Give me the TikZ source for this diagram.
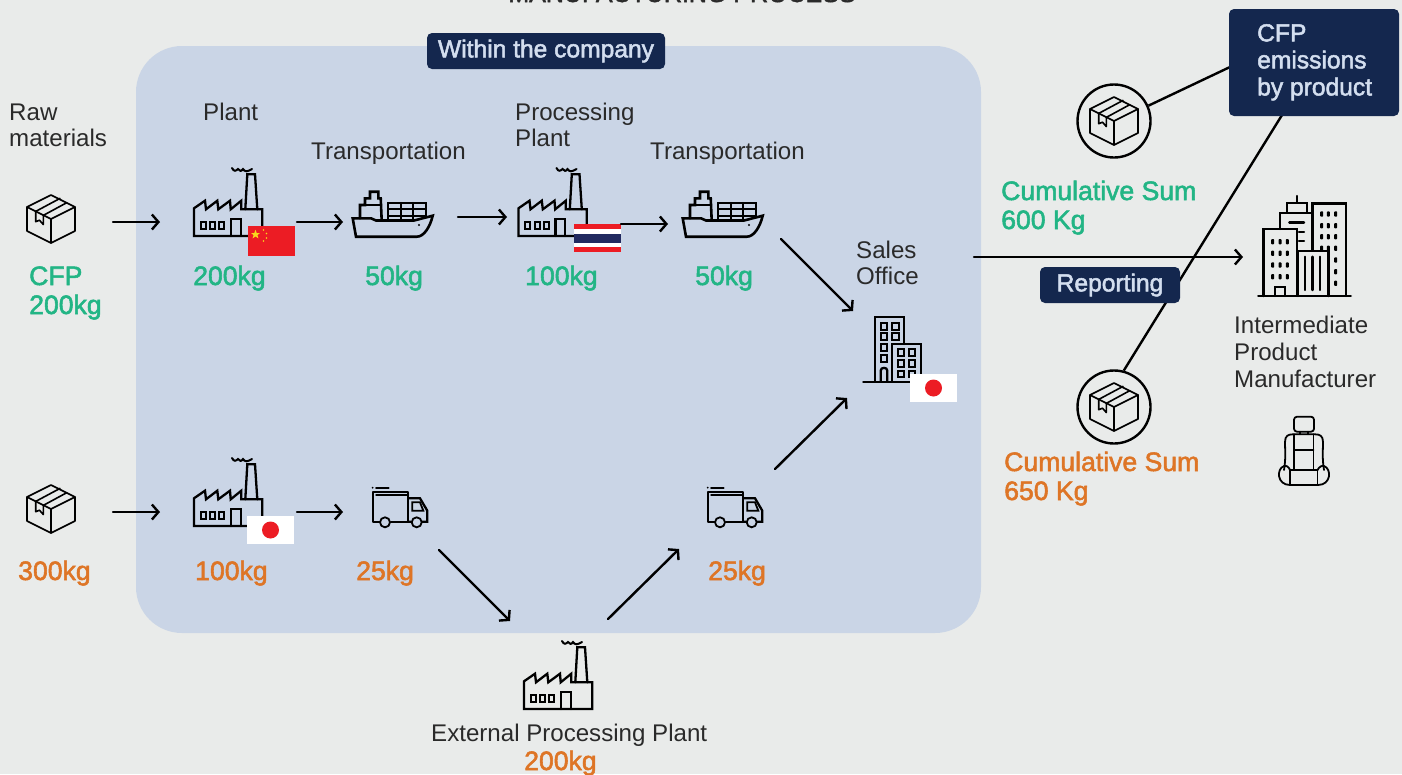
\documentclass[tikz,border=0pt]{standalone}
\usepackage{fontspec}
\setmainfont{Liberation Sans}
\usetikzlibrary{arrows.meta}
\definecolor{bgc}{HTML}{E9EBEA}
\definecolor{panelc}{HTML}{CAD5E6}
\definecolor{navy}{HTML}{14274E}
\definecolor{lightt}{HTML}{D3DEEF}
\definecolor{greenc}{HTML}{22B585}
\definecolor{orangec}{HTML}{DE7526}
\definecolor{inkc}{HTML}{2A2A2A}
\definecolor{jred}{HTML}{EC1C24}
\definecolor{tblue}{HTML}{222A60}
\definecolor{cyel}{HTML}{F8D81C}
\newcommand{\medw}{\addfontfeature{FakeBold=2.0}}
\tikzset{
  x=1pt,y=-1pt,
  icon/.style={line width=2.3pt,draw=black,line join=miter,line cap=round},
  thin icon/.style={line width=1.6pt,draw=black,line join=round,line cap=round},
  flow/.style={line width=2.4pt,black,-{Straight Barb[length=6.5pt,width=15pt,line width=2.4pt]},line cap=round},
  link/.style={line width=2.4pt,black},
  lab/.style={anchor=base west,inner sep=0pt,text=inkc,font=\fontsize{24.1}{26}\selectfont,align=left},
  grn/.style={anchor=base west,inner sep=0pt,text=greenc,font=\fontsize{26.6}{29}\selectfont\medw,align=left},
  org/.style={anchor=base west,inner sep=0pt,text=orangec,font=\fontsize{26.6}{29}\selectfont\medw,align=left},
  tag/.style={fill=navy,rounded corners=5pt,inner sep=0pt,text=lightt,font=\fontsize{24.6}{27}\selectfont\medw,align=left},
  halo/.style={circle,draw=black,line width=2.4pt,minimum size=73pt,inner sep=0pt},
  boxicon/.pic={
    \draw[thin icon] (0,-24)--(24,-12)--(24,12)--(0,24)--(-24,12)--(-24,-12)--cycle;
    \draw[thin icon] (-24,-12)--(0,0)--(24,-12) (0,0)--(0,24);
    \draw[thin icon] (-15.3,-7.6)--(9,-20.6) (-7.7,-3.6)--(15.7,-16.3);
    \draw[thin icon] (-15.3,-7.6)--(-15.3,2.7)--(-11.5,1.2)--(-7.7,5.5)--(-7.7,-3.6);
  },
  factoryicon/.pic={
    \draw[icon] (-34,31)--(-34,3.3)--(-23,-4.3)--(-22,4.3)--(-10.7,-4.3)--(-9.7,4.3)--(2,-4.3)--(2.7,4.3)--(13.3,-4.3)--(13.3,4.3)--(34.3,4.3)--(34.3,31)--cycle;
    \draw[icon] (17.3,4.3)--(19.3,-30.7)--(27,-30.7)--(29.3,4.3);
    \draw[icon,line width=2pt] (4,-37) .. controls (6,-33) and (8,-34) .. (10,-36) .. controls (12,-34) and (13,-33) .. (15,-36) .. controls (17,-33) and (19,-33) .. (24,-36);
    \foreach \xx in {-27.3,-18,-8.7}{\draw[icon,line width=2pt] (\xx,16.7) rectangle ++(5,7);}
    \draw[icon] (3,31)--(3,14.3)--(12.7,14.3)--(12.7,31);
  },
  shipicon/.pic={
    \draw[icon,line width=2.6pt] (-39.3,3.3)--(-36,21.7)--(24.7,21.7) .. controls (32,21.7) and (38,12) .. (40.7,0.7)--(22,5.5)--(-10,5.5)--(-16,5.5)--(-21,3.3)--cycle;
    \draw[icon,line width=2.6pt] (-32,3.3)--(-32,-10)--(-27,-10)--(-27,-16.7)--(-22,-16.7)--(-22,-23.3)--(-13.7,-23.3)--(-13.7,-16.7)--(-11.3,-16.7)--(-10.3,5.5);
    \draw[icon] (-27,-10)--(-11,-10);
    \draw[icon] (-3.7,5.5)--(-3.7,-12.3)--(34,-12.3)--(34,2);
    \draw[icon,line width=1.8pt] (-3.7,-6)--(34,-6) (-3.7,0.7)--(34,0.7);
    \draw[icon,line width=1.8pt] (8.7,-12.3)--(8.7,5.5) (21.3,-12.3)--(21.3,5.5);
    \fill (27,10) circle (1.1pt);
  },
  truckicon/.pic={
    \draw[icon,line join=round] (-20,13.7)--(-27.3,13.7)--(-27.3,-16.3)--(8.3,-16.3)--(8.3,13.7)--(-9,13.7);
    \draw[icon,line width=1.5pt] (-24,-13)--(8.3,-13);
    \draw[icon] (8.3,-9.7)--(20,-9.7)--(27.3,2.7)--(27.3,13.7)--(22,13.7) (11,13.7)--(8.3,13.7);
    \draw[icon,line width=1.8pt] (12.3,-5.7)--(20,-5.7)--(23.3,2.7)--(12.3,2.7)--cycle;
    \draw[icon,line width=1.8pt] (-15,14.3) circle (5pt) (16.7,14.3) circle (5pt);
    \draw[icon,line width=1.6pt] (-24,-20.3)--(-11.3,-20.3);
    \fill (-27.3,-20.3) circle (1pt);
  },
  officeicon/.pic={
    \draw[icon] (-26.7,31.7)--(27,31.7);
    \draw[icon] (-15,31.7)--(-15,-32.7)--(14.3,-32.7)--(14.3,-6);
    \draw[icon] (1.7,31.7)--(1.7,-6)--(31,-6)--(31,31.7);
    \foreach \yy in {-27.3,-16.7,-5.7,5}{\draw[icon,line width=2pt] (-9.3,\yy) rectangle ++(6.6,6.8);}
    \foreach \yy in {-27.3,-16.7}{\draw[icon,line width=2pt] (1.7,\yy) rectangle ++(6.8,6.8);}
    \foreach \yy in {-1,10,20.7}{\foreach \xx in {7.7,18.7}{\draw[icon,line width=2pt] (\xx,\yy) rectangle ++(6.6,6.6);}}
    \draw[icon] (-9.3,31.7)--(-9.3,20.5) .. controls (-9.3,17) and (-2.7,17) .. (-2.7,20.5)--(-2.7,31.7);
  },
  cityicon/.pic={
    \draw[icon,line width=2.6pt] (-41.7,46)--(50.7,46);
    \draw[icon,line width=2.4pt] (-36.7,46)--(-36.7,-21)--(-3.3,-21)--(-3.3,46);
    \draw[icon,line width=2.4pt] (-20,-21)--(-20,-37.3)--(11.7,-37.3);
    \draw[icon,line width=2.4pt] (-13.3,-37.3)--(-13.3,-47.3)--(6.7,-47.3)--(6.7,-37.3);
    \draw[icon,line width=2.4pt] (-3.3,-47.3)--(-3.3,-54);
    \draw[icon,line width=2.4pt] (12.3,0)--(12.3,-46.7)--(45.7,-46.7)--(45.7,46);
    \draw[icon,line width=2.4pt] (-2.3,46)--(-2.3,0.7)--(28.3,0.7)--(28.3,46);
    \draw[icon,line width=2.4pt] (-25,46)--(-25,36.7)--(-15,36.7)--(-15,46);
    \draw[icon,line width=2.4pt] (-10.7,-27.7)--(4,-27.7) (-1,-18.3)--(4,-18.3) (-1,-9.3)--(4,-9.3);
    \draw[icon,line width=2.4pt] (5,6.7)--(5,40) (12.3,6.7)--(12.3,40) (20,6.7)--(20,40);
    \foreach \yy in {-8.3,3.3,15,26.7}{\foreach \xx in {-27.3,-20,-12.7}{\fill[rounded corners=0.8pt] (\xx-1.5,\yy-2.6) rectangle (\xx+1.5,\yy+2.6);}}
    \foreach \yy in {-36,-24.3,-13.3,-1.7}{\foreach \xx in {21.7,28.3,35.7}{\fill[rounded corners=0.8pt] (\xx-1.5,\yy-2.6) rectangle (\xx+1.5,\yy+2.6);}}
    \foreach \yy in {10,21.7,33.3}{\fill[rounded corners=0.8pt] (34.2,\yy-2.6) rectangle (37.2,\yy+2.6);}
  },
  seaticon/.pic={
    \draw[thin icon,line width=1.8pt,rounded corners=3pt] (-10,-33.3) rectangle (10,-18.3);
    \draw[thin icon,line width=1.8pt] (-4,-18.3)--(-4,-15.7) (4,-18.3)--(4,-15.7);
    \draw[thin icon,line width=1.8pt] (-20,20) .. controls (-18,8) and (-19,0) .. (-19,-8) .. controls (-19,-14) and (-16,-15.7) .. (-11,-15.7)--(11,-15.7) .. controls (16,-15.7) and (19,-14) .. (19,-8) .. controls (19,0) and (18,8) .. (20,20);
    \draw[thin icon,line width=1.8pt] (-10,-15.7)--(-10,20) (9.5,-15.7)--(9.5,20) (-10,0)--(9.5,0) (-14,20)--(13.5,20);
    \draw[thin icon,line width=1.8pt] (-14,20) .. controls (-15,17) and (-18,15) .. (-20,16) .. controls (-28,19) and (-27,35) .. (-14,35)--(14,35) .. controls (27,35) and (28,19) .. (20,16) .. controls (18,15) and (15,17) .. (13.5,20);
    \draw[thin icon,line width=1.8pt] (-14,20)--(-14,35) (13.5,20)--(13.5,35);
  },
  japanflag/.pic={
    \fill[white] (-23.5,-14) rectangle (23.5,14);
    \fill[jred] (0,0) circle (8.5pt);
  },
}
\begin{document}
\begin{tikzpicture}[x=1pt,y=-1pt]
\useasboundingbox (0,0) rectangle (1402,774);
\clip (0,0) rectangle (1402,774);
\fill[bgc] (0,0) rectangle (1402,774);
\fill[panelc,rounded corners=46pt] (136,46) rectangle (981,633);

\node[anchor=base,inner sep=0pt,text=inkc,font=\fontsize{25}{26}\selectfont\medw] (title) at (682,2) {MANUFACTURING PROCESS};

\coordinate (cfpa) at (1230,67);
\coordinate (cfpb) at (1282,115);
\node[halo] (c1) at (1114,121) {};
\node[halo] (c2) at (1114,407) {};
\draw[link] (c1.24) -- (cfpa);
\draw[link] (cfpb) -- (c2.75);

\node[tag,minimum width=238pt,minimum height=36pt,align=center] (within) at (546,51) {Within the company};
\fill[navy,rounded corners=5pt] (1229,9) rectangle (1399,116);
\node[anchor=north west,inner sep=0pt,text=lightt,font=\fontsize{24.6}{27}\selectfont\medw,align=left] (cfpt) at (1257,24) {CFP\\emissions\\by product};

\pic at (51,219) {boxicon};
\pic at (51,509) {boxicon};
\pic at (1114,121) {boxicon};
\pic at (1114,407) {boxicon};
\pic at (228,205) {factoryicon};
\pic at (552.5,205) {factoryicon};
\pic at (228,495) {factoryicon};
\pic at (558,678) {factoryicon};
\pic at (392,215) {shipicon};
\pic at (722,215) {shipicon};
\pic at (400,508) {truckicon};
\pic at (735,508) {truckicon};
\pic at (890,350) {officeicon};
\pic at (1300,250) {cityicon};
\pic at (1304,450) {seaticon};

\fill[jred] (248,226) rectangle (295,256);
\fill[cyel] (255.5,229.8) -- (256.7,233) -- (260,233) -- (257.4,235.1) -- (258.4,238.4) -- (255.5,236.4) -- (252.6,238.4) -- (253.6,235.1) -- (251,233) -- (254.3,233) -- cycle;
\foreach \p in {(263.5,230),(266.5,233.5),(266.5,238),(263.5,241)}{\fill[cyel] \p circle (0.9pt);}
\fill[jred] (574,224) rectangle (621,252);
\fill[white] (574,229) rectangle (621,247);
\fill[tblue] (574,234) rectangle (621,243);
\pic at (270.5,530) {japanflag};
\pic at (933.5,388) {japanflag};

\foreach \n/\a/\b/\c/\d in {r1/113/222/160/222,r2/297/222/343/222,r3/458/217/507/217,r4/621/224/668/224,r5/781/239/853/311,s1/113/512/160/512,s2/297/512/343/512,s3/439/550/510/621,s4/608/619/679/549,s5/775/469/847/398,rep/974/257/1243/257}{
  \coordinate (\n a) at (\a,\b);
  \coordinate (\n b) at (\c,\d);
  \draw[flow] (\n a) -- (\n b);
}

\node[tag,minimum width=140pt,minimum height=36pt,align=center] (reporting) at (1110,285) {\raisebox{-1pt}{Reporting}};

\node[lab] (l1) at (9,146) {Raw\\materials};
\node[lab] (l2) at (203,120) {Plant};
\node[lab] (l3) at (311,159) {Transportation};
\node[lab] (l4) at (515,146) {Processing\\Plant};
\node[lab] (l5) at (650,159) {Transportation};
\node[lab] (l6) at (856,284) {Sales\\Office};
\node[lab] (l7) at (1234,387) {Intermediate\\[1pt]Product\\[1pt]Manufacturer};
\node[lab] (l8) at (431,741) {External Processing Plant};

\node[grn] (g1) at (29,314) {CFP\\200kg};
\node[grn] (g2) at (193,285) {200kg};
\node[grn] (g3) at (365,285) {50kg};
\node[grn] (g4) at (525,285) {100kg};
\node[grn] (g5) at (695,285) {50kg};
\node[grn] (g6) at (1001,229) {Cumulative Sum\\600 Kg};
\node[org] (o1) at (18,580) {300kg};
\node[org] (o2) at (195,580) {100kg};
\node[org] (o3) at (356,580) {25kg};
\node[org] (o4) at (708,580) {25kg};
\node[org] (o5) at (1004,500) {Cumulative Sum\\650 Kg};
\node[org] (o6) at (524,770) {200kg};
\end{tikzpicture}
\end{document}
